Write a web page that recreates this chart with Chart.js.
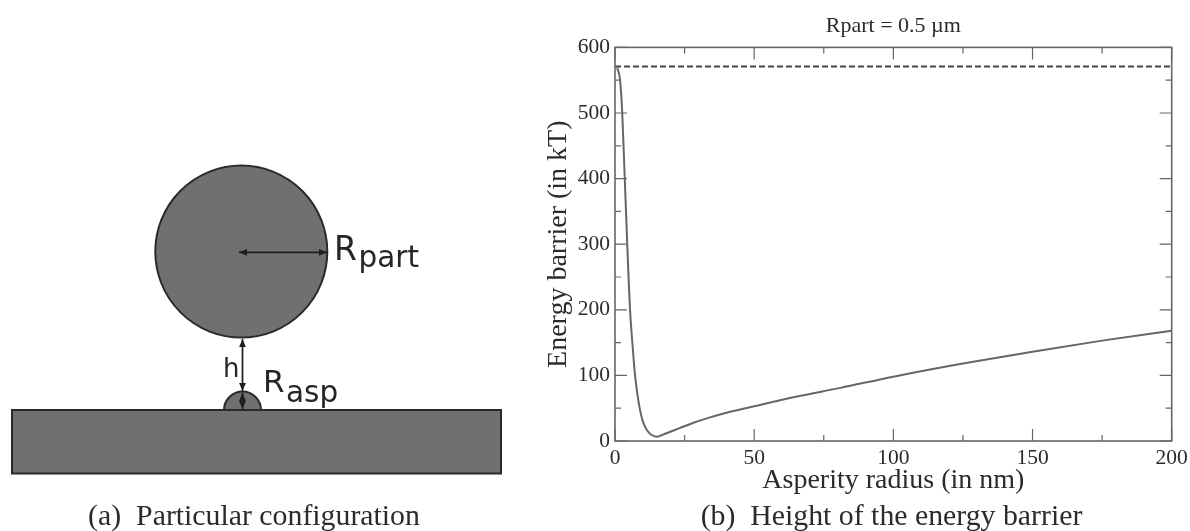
<!DOCTYPE html>
<html>
<head>
<meta charset="utf-8">
<script src="https://cdn.jsdelivr.net/npm/chart.js@4"></script>
<style>
html, body { margin: 0; padding: 0; background: #fff; }
#wrap { width: 1190px; height: 531px; }
</style>
</head>
<body>
<div id="wrap"><canvas id="chart" width="1190" height="531"></canvas></div>
<script>
const radius = [0.8, 1.8, 2.6, 3.5, 4.4, 4.9, 5.4, 6.3, 7.2, 8.1, 9, 10, 11.4, 12.9, 15, 18, 23.4, 28, 33, 40, 50, 65, 81, 100, 125, 150, 175, 200];
const barrier = [569, 551, 500, 401, 300, 246, 200, 146, 100, 70, 47, 30, 17, 10, 6.5, 11, 20, 27.5, 34.5, 43, 53, 67.5, 81, 98, 118, 136, 153, 168];
const limitX = [0, 200];
const limitY = [571, 571];

const xStep = 25, xMajor = 50, xMax = 200;
const yStep = 50, yMajor = 100, yMax = 600;

const serif = '"Liberation Serif"';
const sans = '"DejaVu Sans"';
const lineGrey = '#666666';
const textGrey = '#2b2b2b';

const points = (xs, ys) => xs.map((x, i) => ({ x: x, y: ys[i] }));

// frame and inward ticks on all four sides, like xmgrace does
const framePlugin = {
    id: 'frame',
    afterDatasetsDraw(chart) {
        const { ctx, chartArea: a, scales } = chart;
        ctx.save();
        ctx.strokeStyle = lineGrey;
        ctx.lineWidth = 1.6;
        ctx.strokeRect(a.left, a.top, a.right - a.left, a.bottom - a.top);
        ctx.lineWidth = 1.2;
        ctx.beginPath();
        scales.x.ticks.forEach(t => {
            const px = scales.x.getPixelForValue(t.value);
            const len = t.value % xMajor === 0 ? 12 : 6;
            ctx.moveTo(px, a.bottom); ctx.lineTo(px, a.bottom - len);
            ctx.moveTo(px, a.top); ctx.lineTo(px, a.top + len);
        });
        scales.y.ticks.forEach(t => {
            const py = scales.y.getPixelForValue(t.value);
            const len = t.value % yMajor === 0 ? 12 : 6;
            ctx.moveTo(a.left, py); ctx.lineTo(a.left + len, py);
            ctx.moveTo(a.right, py); ctx.lineTo(a.right - len, py);
        });
        ctx.stroke();
        ctx.restore();
    }
};

function arrowHead(ctx, x, y, dx, dy) {
    const s = 8, w = 3.4;
    ctx.beginPath();
    ctx.moveTo(x, y);
    ctx.lineTo(x - dx * s - dy * w, y - dy * s - dx * w);
    ctx.lineTo(x - dx * s + dy * w, y - dy * s + dx * w);
    ctx.closePath();
    ctx.fill();
}

function arrow(ctx, x1, y1, x2, y2) {
    const l = Math.hypot(x2 - x1, y2 - y1);
    const dx = (x2 - x1) / l, dy = (y2 - y1) / l;
    ctx.beginPath();
    ctx.moveTo(x1, y1);
    ctx.lineTo(x2, y2);
    ctx.stroke();
    arrowHead(ctx, x2, y2, dx, dy);
    arrowHead(ctx, x1, y1, -dx, -dy);
}

// left panel (the sketch) and the two captions
const sketchPlugin = {
    id: 'sketch',
    afterDraw(chart) {
        const ctx = chart.ctx;
        ctx.save();
        ctx.fillStyle = '#707070';
        ctx.strokeStyle = '#2a2a2a';
        ctx.lineWidth = 2;

        ctx.beginPath();
        ctx.arc(241.3, 251.6, 86, 0, Math.PI * 2);
        ctx.fill();
        ctx.stroke();

        ctx.beginPath();
        ctx.arc(242.5, 410, 18.5, Math.PI, 0);
        ctx.fill();
        ctx.stroke();

        ctx.fillRect(12, 410, 489, 63.5);
        ctx.strokeRect(12, 410, 489, 63.5);

        ctx.fillStyle = '#1e1e1e';
        ctx.strokeStyle = '#1e1e1e';
        ctx.lineWidth = 1.7;
        arrow(ctx, 239, 252.3, 327, 252.3);
        arrow(ctx, 242.5, 339, 242.5, 391);
        arrow(ctx, 242.5, 393, 242.5, 409);

        ctx.fillStyle = '#262626';
        ctx.textBaseline = 'alphabetic';
        ctx.textAlign = 'left';
        ctx.font = '33px ' + sans;
        ctx.fillText('R', 334, 260);
        ctx.font = '31px ' + sans;
        ctx.fillText('R', 263, 392);
        ctx.font = '26px ' + sans;
        ctx.fillText('h', 223, 377);
        ctx.font = '29.5px ' + sans;
        ctx.fillText('part', 358.5, 267);
        ctx.fillText('asp', 286, 401.5);

        ctx.fillStyle = textGrey;
        ctx.textAlign = 'center';
        ctx.font = '29.8px ' + serif;
        ctx.fillText('(a)  Particular configuration', 254, 525);
        ctx.fillText('(b)  Height of the energy barrier', 891.5, 525);
        ctx.restore();
    }
};

new Chart(document.getElementById('chart'), {
    type: 'line',
    data: {
        datasets: [
            {
                data: points(radius, barrier),
                borderColor: lineGrey,
                borderWidth: 2,
                pointRadius: 0,
                cubicInterpolationMode: 'monotone'
            },
            {
                data: points(limitX, limitY),
                borderColor: '#444444',
                borderWidth: 2,
                borderDash: [6, 3],
                pointRadius: 0
            }
        ]
    },
    options: {
        responsive: false,
        animation: false,
        layout: { padding: { left: 0, right: 18.3, top: 0, bottom: 0 } },
        plugins: {
            legend: { display: false },
            tooltip: { enabled: false },
            title: {
                display: true,
                text: 'Rpart = 0.5 µm',
                fullSize: false,
                color: textGrey,
                font: { family: serif, size: 22, weight: 'normal' },
                padding: { top: 13, bottom: 8 }
            }
        },
        scales: {
            x: {
                type: 'linear',
                min: 0,
                max: xMax,
                afterFit(scale) {
                    scale.height = 90;
                    scale.paddingLeft = 0;
                    scale.paddingRight = 0;
                },
                grid: { display: false, tickLength: 0 },
                border: { display: false },
                ticks: {
                    stepSize: xStep,
                    autoSkip: false,
                    maxRotation: 0,
                    padding: 4,
                    color: textGrey,
                    font: { family: serif, size: 21.5 },
                    callback: v => v % xMajor === 0 ? String(v) : ''
                },
                title: {
                    display: true,
                    text: 'Asperity radius (in nm)',
                    color: textGrey,
                    font: { family: serif, size: 28 },
                    padding: { top: 0, bottom: 34 }
                }
            },
            y: {
                min: 0,
                max: yMax,
                afterFit(scale) {
                    scale.width = 615;
                    scale.paddingTop = 0;
                    scale.paddingBottom = 0;
                },
                grid: { display: false, tickLength: 0 },
                border: { display: false },
                ticks: {
                    stepSize: yStep,
                    autoSkip: false,
                    padding: 5,
                    color: textGrey,
                    font: { family: serif, size: 21.5 },
                    callback: v => v % yMajor === 0 ? String(v) : ''
                },
                title: {
                    display: true,
                    text: 'Energy barrier (in kT)',
                    color: textGrey,
                    font: { family: serif, size: 28 },
                    padding: { top: 542, bottom: 0 }
                }
            }
        }
    },
    plugins: [framePlugin, sketchPlugin]
});
</script>
</body>
</html>
